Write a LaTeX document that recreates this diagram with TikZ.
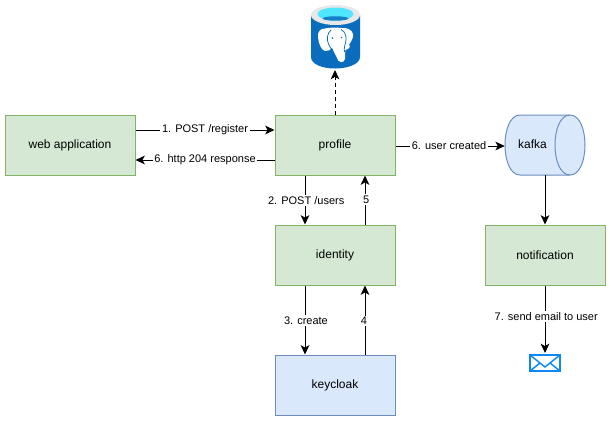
\documentclass[tikz,border=0pt]{standalone}
\usepackage{fontspec}
\setmainfont{Liberation Sans}
\usetikzlibrary{arrows.meta}
\definecolor{gfill}{HTML}{D5E8D4}
\definecolor{gline}{HTML}{82B366}
\definecolor{bfill}{HTML}{DAE8FC}
\definecolor{bline}{HTML}{6C8EBF}
\definecolor{dbtop}{HTML}{E8E8E8}
\definecolor{dbblue}{HTML}{0A6CBC}
\definecolor{dbcyan}{HTML}{50E6FF}
\definecolor{mailblue}{HTML}{0F87F5}
\tikzset{
  x=0.75pt,y=-0.75pt,
  box/.style={draw,line width=0.75pt,minimum width=90pt,minimum height=45pt,inner sep=0pt,font=\fontsize{9}{11}\selectfont},
  greenbox/.style={box,fill=gfill,draw=gline},
  bluebox/.style={box,fill=bfill,draw=bline},
  conn/.style={draw=black,line width=0.72pt,-{Stealth[length=7pt,width=6.5pt,inset=1.8pt]}},
  lab/.style={fill=white,inner xsep=1.2pt,inner ysep=1pt,font=\fontsize{8.25}{10}\selectfont}
}
\begin{document}
\begin{tikzpicture}
\useasboundingbox (0,0) rectangle (611,421);
\node[greenbox,minimum width=97.5pt] (web) at (70,145) {\raisebox{0.5pt}{web application}};
\node[greenbox] (profile) at (335,145) {\raisebox{0.5pt}{profile}};
\node[greenbox] (identity) at (335,255) {\raisebox{0.5pt}{identity}};
\node[bluebox] (keycloak) at (335,385) {\raisebox{0.5pt}{keycloak}};
\node[greenbox] (notification) at (545,255) {\raisebox{0.5pt}{notification}};
% kafka cylinder
\node[inner sep=0pt,minimum width=60pt,minimum height=45pt] (kafka) at (545,145) {};
\filldraw[fill=bfill,draw=bline,line width=0.75pt]
  (570,115) -- (520,115) .. controls (510,115) and (505,130) .. (505,145)
  .. controls (505,160) and (510,175) .. (520,175) -- (570,175)
  .. controls (580,175) and (585,160) .. (585,145)
  .. controls (585,130) and (580,115) .. (570,115) -- cycle;
\draw[bline,line width=0.75pt] (570,115) .. controls (560,115) and (555,130) .. (555,145)
  .. controls (555,160) and (560,175) .. (570,175);
\node[font=\fontsize{9}{11}\selectfont] (kafkalab) at (532.5,144) {kafka};
% database icon
\coordinate (dbbase) at (335,70);
\fill[dbblue] (311,15) -- (311,57) .. controls (311,64) and (322,68.5) .. (335,68.5)
  .. controls (348,68.5) and (360,64) .. (360,57) -- (360,15) -- cycle;
\fill[dbtop] (335.5,15) ellipse [x radius=24.5,y radius=10];
\fill[dbcyan] (335.5,14) ellipse [x radius=18,y radius=6.5];
\fill[dbblue!85!dbcyan] (335.5,18.5) ellipse [x radius=13,y radius=2.2];
% elephant
\fill[white] (325,28.5) .. controls (320,28.5) and (317.5,32) .. (318,37)
  .. controls (318.5,43) and (321,50) .. (325,51)
  .. controls (328,51.5) and (330,50) .. (332,48)
  .. controls (334,52) and (336,56) .. (337,58)
  .. controls (338,63) and (344,63.5) .. (345,59)
  .. controls (345.5,55) and (344.5,52) .. (345.5,50)
  .. controls (349,49) and (351,47) .. (349,44.5)
  .. controls (352,41) and (353.5,37) .. (353,34)
  .. controls (352,29) and (346,27.5) .. (341,28)
  .. controls (337,27) and (330,27.5) .. (325,28.5) -- cycle;
\draw[dbblue,line width=0.55pt] (331,30) .. controls (327,33) and (326.5,40) .. (328.5,44)
  .. controls (330,47) and (331,49) .. (332.5,50);
\draw[dbblue,line width=0.55pt] (341,29.5) .. controls (346,32) and (347,38) .. (345.5,43)
  .. controls (344.5,46) and (344,48) .. (344.5,52);
\draw[dbblue,line width=0.55pt] (332,37) -- (333,39);
\draw[dbblue,line width=0.55pt] (341,37) -- (342,38);
% connectors
\draw[conn,dashed,dash pattern=on 3pt off 2.2pt] (profile.north) -- (dbbase);
\draw[conn] ([yshift=11.25pt]web.east) -- node[lab] (l1) {1. POST /register} ([yshift=11.25pt]profile.west);
\draw[conn] ([yshift=-11.25pt]profile.west) -- node[lab] (l2) {6. http 204 response} ([yshift=-11.25pt]web.east);
\draw[conn] ([xshift=-22.5pt]profile.south) -- node[lab,xshift=0.9pt,yshift=-0.3pt] (l3) {2. POST /users} ([xshift=-22.5pt]identity.north);
\draw[conn] ([xshift=22.5pt]identity.north) -- node[lab,xshift=0.8pt,yshift=0.3pt] (l4) {5} ([xshift=22.5pt]profile.south);
\draw[conn] ([xshift=-22.5pt]identity.south) -- node[lab,xshift=0.7pt,yshift=-0.5pt] (l5) {3. create} ([xshift=-22.5pt]keycloak.north);
\draw[conn] ([xshift=22.5pt]keycloak.north) -- node[lab,xshift=-0.8pt,yshift=-0.5pt] (l6) {4} ([xshift=22.5pt]identity.south);
\draw[conn] ([yshift=-0.75pt]profile.east) -- node[lab,xshift=-0.8pt] (l7) {6. user created} ([yshift=-0.75pt]kafka.west);
\draw[conn] (kafka.south) -- (notification.north);
\coordinate (mailtop) at (545,353);
\draw[conn] (notification.south) -- node[lab,pos=0.46,xshift=0.9pt] (l8) {7. send email to user} (mailtop);
% mail icon
\fill[white] (530,354.5) rectangle (560,371);
\draw[mailblue,line width=1.4pt] (530,355) rectangle (560,371);
\draw[mailblue,line width=1.1pt] (530,355) -- (545,367) -- (560,355);
\draw[mailblue,line width=1.1pt] (530,371) -- (540,363);
\draw[mailblue,line width=1.1pt] (560,371) -- (550,363);
\end{tikzpicture}
\end{document}
